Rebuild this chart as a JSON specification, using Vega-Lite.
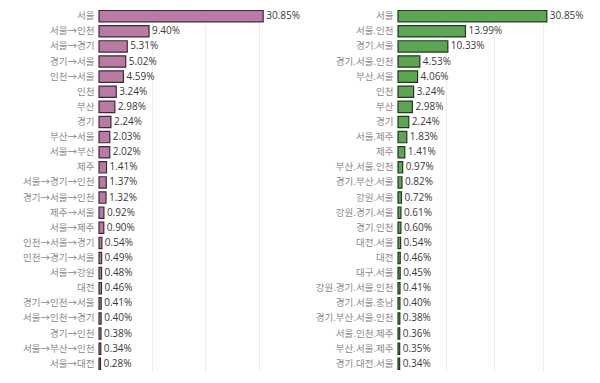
{
  "$schema": "https://vega.github.io/schema/vega-lite/v6.json",
  "autosize": "none",
  "padding": {"left": 99, "top": 9, "right": 501, "bottom": 374},
  "background": "white",
  "config": {
    "view": {"stroke": null},
    "font": "Noto Sans CJK KR",
    "concat": {"spacing": 109}
  },
  "bounds": "flush",
  "datasets": {
    "left": [
      {"label": "서울", "v": 0.3085},
      {"label": "서울→인천", "v": 0.0940},
      {"label": "서울→경기", "v": 0.0531},
      {"label": "경기→서울", "v": 0.0502},
      {"label": "인천→서울", "v": 0.0459},
      {"label": "인천", "v": 0.0324},
      {"label": "부산", "v": 0.0298},
      {"label": "경기", "v": 0.0224},
      {"label": "부산→서울", "v": 0.0203},
      {"label": "서울→부산", "v": 0.0202},
      {"label": "제주", "v": 0.0141},
      {"label": "서울→경기→인천", "v": 0.0137},
      {"label": "경기→서울→인천", "v": 0.0132},
      {"label": "제주→서울", "v": 0.0092},
      {"label": "서울→제주", "v": 0.0090},
      {"label": "인천→서울→경기", "v": 0.0054},
      {"label": "인천→경기→서울", "v": 0.0049},
      {"label": "서울→강원", "v": 0.0048},
      {"label": "대전", "v": 0.0046},
      {"label": "경기→인천→서울", "v": 0.0041},
      {"label": "서울→인천→경기", "v": 0.0040},
      {"label": "경기→인천", "v": 0.0038},
      {"label": "서울→부산→인천", "v": 0.0034},
      {"label": "서울→대전", "v": 0.0028}
    ],
    "right": [
      {"label": "서울", "v": 0.3085},
      {"label": "서울.인천", "v": 0.1399},
      {"label": "경기.서울", "v": 0.1033},
      {"label": "경기.서울.인천", "v": 0.0453},
      {"label": "부산.서울", "v": 0.0406},
      {"label": "인천", "v": 0.0324},
      {"label": "부산", "v": 0.0298},
      {"label": "경기", "v": 0.0224},
      {"label": "서울.제주", "v": 0.0183},
      {"label": "제주", "v": 0.0141},
      {"label": "부산.서울.인천", "v": 0.0097},
      {"label": "경기.부산.서울", "v": 0.0082},
      {"label": "강원.서울", "v": 0.0072},
      {"label": "강원.경기.서울", "v": 0.0061},
      {"label": "경기.인천", "v": 0.0060},
      {"label": "대전.서울", "v": 0.0054},
      {"label": "대전", "v": 0.0046},
      {"label": "대구.서울", "v": 0.0045},
      {"label": "강원.경기.서울.인천", "v": 0.0041},
      {"label": "경기.서울.충남", "v": 0.0040},
      {"label": "경기.부산.서울.인천", "v": 0.0038},
      {"label": "서울.인천.제주", "v": 0.0036},
      {"label": "부산.서울.제주", "v": 0.0035},
      {"label": "경기.대전.서울", "v": 0.0034}
    ]
  },
  "hconcat": [
    {
      "width": 190,
      "height": 362,
      "data": {"name": "left"},
      "encoding": {
        "y": {
          "field": "label", "type": "nominal", "sort": null, "title": null,
          "scale": {"paddingInner": 0.25, "paddingOuter": 0.1},
          "axis": {"domain": false, "ticks": false, "labelPadding": 5, "labelFontSize": 9.5, "labelColor": "#8a8a8a", "grid": false, "labelFont": "Noto Sans CJK KR"}
        },
        "x": {
          "field": "v", "type": "quantitative", "title": null,
          "scale": {"domain": [0, 0.357], "nice": false},
          "axis": {"labels": false, "ticks": false, "domain": false, "values": [0.1, 0.2, 0.3], "gridColor": "#ececec", "gridWidth": 1}
        }
      },
      "layer": [
        {"mark": {"type": "bar", "color": "#b97ba4", "stroke": "#3d2a36", "strokeWidth": 1.2}},
        {"mark": {"type": "text", "align": "left", "dx": 3, "fontSize": 10, "color": "#3a3a3a", "font": "Open Sans"},
         "encoding": {"text": {"field": "v", "type": "quantitative", "format": ".2%"}}}
      ]
    },
    {
      "width": 192,
      "height": 362,
      "data": {"name": "right"},
      "encoding": {
        "y": {
          "field": "label", "type": "nominal", "sort": null, "title": null,
          "scale": {"paddingInner": 0.25, "paddingOuter": 0.1},
          "axis": {"domain": false, "ticks": false, "labelPadding": 5, "labelFontSize": 9.5, "labelColor": "#8a8a8a", "grid": false, "labelFont": "Noto Sans CJK KR"}
        },
        "x": {
          "field": "v", "type": "quantitative", "title": null,
          "scale": {"domain": [0, 0.398], "nice": false},
          "axis": {"labels": false, "ticks": false, "domain": false, "values": [0.1, 0.2, 0.3], "gridColor": "#ececec", "gridWidth": 1}
        }
      },
      "layer": [
        {"mark": {"type": "bar", "color": "#5aa651", "stroke": "#1f3a1c", "strokeWidth": 1.2}},
        {"mark": {"type": "text", "align": "left", "dx": 3, "fontSize": 10, "color": "#3a3a3a", "font": "Open Sans"},
         "encoding": {"text": {"field": "v", "type": "quantitative", "format": ".2%"}}}
      ]
    }
  ]
}
